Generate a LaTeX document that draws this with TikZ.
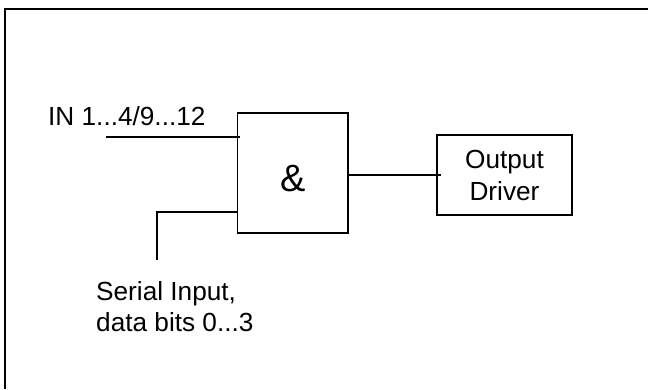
\documentclass[tikz,border=0pt]{standalone}
\usepackage{fontspec}
\setmainfont{Liberation Sans}
\begin{document}
\begin{tikzpicture}[x=1pt,y=-1pt,
 box/.style={draw=black,line width=1.7pt,inner sep=0pt,outer sep=0pt,anchor=north west},
 wire/.style={draw=black,line width=1.4pt},
 lbl/.style={inner sep=0pt,font=\fontsize{26.2}{31.5}\selectfont,text=black}]
\useasboundingbox (0,0) rectangle (648,389);
\coordinate (tr) at (648,9);
\coordinate (tl) at (5,9);
\coordinate (bl) at (5,389);
\draw[black,line width=2.2pt] (tr) -- (tl) -- (bl);
\node[box,minimum width=110.5pt,minimum height=120pt] (and) at (237.5,113) {};
\node[inner sep=0pt,font=\fontsize{38}{44}\selectfont,anchor=base] (amp) at (293,191) {\&};
\node[box,minimum width=135pt,minimum height=80pt] (drv) at (437,135) {};
\node[lbl,anchor=base] (drvt) at (504.5,168) {Output};
\node[lbl,anchor=base] (drvb) at (504.5,200) {Driver};
\node[lbl,anchor=base west] (in) at (48,125) {IN 1...4/9...12};
\node[lbl,anchor=base west] (ser1) at (96,300) {Serial Input,};
\node[lbl,anchor=base west] (ser2) at (96,331) {data bits 0...3};
\coordinate (a) at (106,137);
\coordinate (b) at (157,260);
\coordinate (c) at (157,212);
\coordinate (d) at (240,137);
\coordinate (e) at (348,175);
\coordinate (f) at (441,175);
\draw[wire] (a) -- (d);
\draw[wire] (b) -- (c) -- (c -| and.west);
\draw[wire] (e) -- (f);
\end{tikzpicture}
\end{document}
